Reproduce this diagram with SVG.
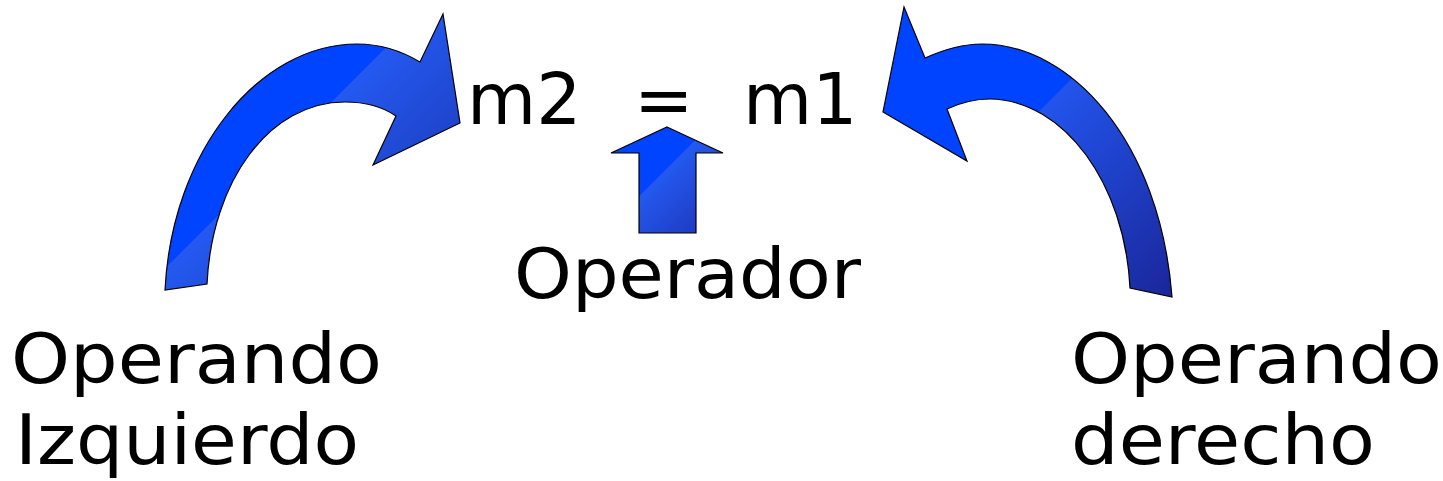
<svg xmlns="http://www.w3.org/2000/svg" width="1443" height="481" viewBox="0 0 1443 481">
  <style>
    .lbl { font-family: "DejaVu Sans", "Liberation Sans", sans-serif; fill: #000; }
    .big { font-size: 70px; }
    .eq { font-size: 71px; }
    .arrow { stroke: #000; stroke-width: 1.2; stroke-linejoin: miter; }
  </style>
  <defs>
    <linearGradient id="gL" gradientUnits="userSpaceOnUse" x1="216.5" y1="216.5" x2="291.5" y2="291.5">
      <stop offset="0" stop-color="#0044ff"/>
      <stop offset="0.002" stop-color="#2459f0"/>
      <stop offset="1" stop-color="#1f44cc"/>
    </linearGradient>
    <linearGradient id="gR" gradientUnits="userSpaceOnUse" x1="575" y1="575" x2="734.5" y2="734.5">
      <stop offset="0" stop-color="#0044ff"/>
      <stop offset="0.002" stop-color="#2254ec"/>
      <stop offset="1" stop-color="#1a269a"/>
    </linearGradient>
    <linearGradient id="gU" gradientUnits="userSpaceOnUse" x1="417.5" y1="417.5" x2="464.5" y2="464.5">
      <stop offset="0" stop-color="#0044ff"/>
      <stop offset="0.004" stop-color="#2459f0"/>
      <stop offset="1" stop-color="#1f3bc2"/>
    </linearGradient>
  </defs>

  <g id="connectors">
    <path id="arrow-left" class="arrow" fill="url(#gL)" d="M165,290 C172,150 260,44 357,44 C380,44 400,50 420,62 L443,14 L460,123 L373,165 L396,116 C383,107 367,102 345,102 C270,102 212,180 207,284 Z"/>
    <path id="arrow-right" class="arrow" fill="url(#gR)" d="M904,7 L925,58 C945,49 962,44 982,44 C1070,44 1160,140 1172,297 L1130,288 C1125,185 1065,100 990,99 C975,99 960,103 947,109 L967,161 L883,112 Z"/>
    <path id="arrow-up" class="arrow" fill="url(#gU)" d="M667,127 L723,153 L696,153 L696,233 L639,233 L639,153 L611,153 Z"/>
  </g>

  <g id="node-expression">
    <text class="lbl eq" y="124"><tspan x="467">m2</tspan><tspan x="634">=</tspan><tspan x="743">m1</tspan></text>
  </g>
  <g id="node-operador">
    <text class="lbl big" x="514" y="298" textLength="347" lengthAdjust="spacingAndGlyphs">Operador</text>
  </g>
  <g id="node-operando-izquierdo">
    <text class="lbl big" x="11" y="383" textLength="371" lengthAdjust="spacingAndGlyphs">Operando</text>
    <text class="lbl big" x="15" y="464" textLength="344" lengthAdjust="spacingAndGlyphs">Izquierdo</text>
  </g>
  <g id="node-operando-derecho">
    <text class="lbl big" x="1071" y="383" textLength="371" lengthAdjust="spacingAndGlyphs">Operando</text>
    <text class="lbl big" x="1071" y="464" textLength="304" lengthAdjust="spacingAndGlyphs">derecho</text>
  </g>
</svg>
